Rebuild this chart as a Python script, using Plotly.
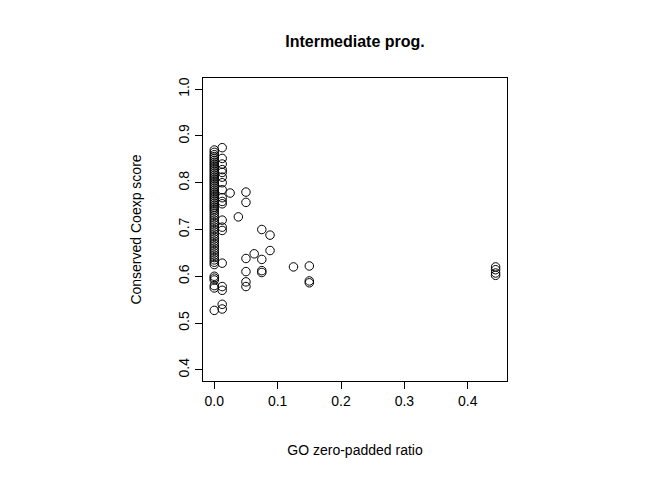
import plotly.graph_objects as go

# Column at x = 0
x0_scores = [0.870, 0.865, 0.860, 0.856, 0.852, 0.848, 0.844, 0.840, 0.836, 0.832,
             0.828, 0.824, 0.820, 0.816, 0.812, 0.808, 0.804, 0.800, 0.796, 0.792,
             0.788, 0.784, 0.780, 0.776, 0.772, 0.768, 0.764, 0.760, 0.756, 0.752,
             0.748, 0.744, 0.740, 0.735, 0.730, 0.725, 0.720, 0.715, 0.710, 0.705,
             0.700, 0.695, 0.690, 0.685, 0.680, 0.675, 0.670, 0.665, 0.660, 0.655,
             0.650, 0.645, 0.640, 0.635, 0.630, 0.625, 0.600, 0.596, 0.592, 0.580,
             0.575, 0.527]
# Column at x ~ 0.0125
x1_scores = [0.875, 0.852, 0.840, 0.828, 0.822, 0.812, 0.800, 0.785, 0.768, 0.760,
             0.755, 0.720, 0.705, 0.698, 0.628, 0.578, 0.570, 0.540, 0.530]

other_x = [0.025, 0.038, 0.050, 0.050, 0.075, 0.088, 0.063, 0.050, 0.075, 0.088,
           0.075, 0.075, 0.050, 0.050, 0.050, 0.125, 0.150, 0.150, 0.150,
           0.444, 0.444, 0.444, 0.444]
other_y = [0.778, 0.727, 0.780, 0.758, 0.700, 0.688, 0.648, 0.638, 0.636, 0.655,
           0.612, 0.608, 0.610, 0.588, 0.578, 0.620, 0.622, 0.590, 0.586,
           0.620, 0.614, 0.607, 0.602]

xs = [0.0] * len(x0_scores) + [0.0125] * len(x1_scores) + other_x
ys = x0_scores + x1_scores + other_y

x_ticks = [0.0, 0.1, 0.2, 0.3, 0.4]
y_ticks = [0.4, 0.5, 0.6, 0.7, 0.8, 0.9, 1.0]

fig = go.Figure(go.Scatter(
    x=xs, y=ys, mode="markers",
    marker=dict(symbol="circle-open", size=8.5, color="black", line=dict(width=1, color="black")),
    hoverinfo="skip"))

font = "Liberation Sans, Arial, sans-serif"
axis_common = dict(showgrid=False, zeroline=False, showline=True, linecolor="black",
                   linewidth=1, mirror=True, ticks="outside", ticklen=7, tickcolor="black",
                   automargin=False,
                   tickfont=dict(family=font, size=14, color="black"))

fig.update_layout(
    width=672, height=480,
    margin=dict(l=195, r=173, t=70, b=107),
    paper_bgcolor="white", plot_bgcolor="white",
    showlegend=False,
    title=dict(text="<b>Intermediate prog.</b>", x=0.5, xref="paper", xanchor="center",
               y=1 - 33 / 480, yanchor="middle",
               font=dict(family=font, size=16, color="black")),
    xaxis=dict(range=[-0.0178, 0.462], tickvals=x_ticks,
               ticktext=[f"{v:.1f}" for v in x_ticks],
               title=dict(text="GO zero-padded ratio", standoff=37,
                          font=dict(family=font, size=14, color="black")),
               **axis_common),
    yaxis=dict(range=[0.376, 1.024], tickvals=y_ticks,
               ticktext=[f"{v:.1f}" for v in y_ticks], tickangle=-90,
               title=dict(text="Conserved Coexp score", standoff=31,
                          font=dict(family=font, size=14, color="black")),
               **axis_common),
)

fig.write_html("out.html")
